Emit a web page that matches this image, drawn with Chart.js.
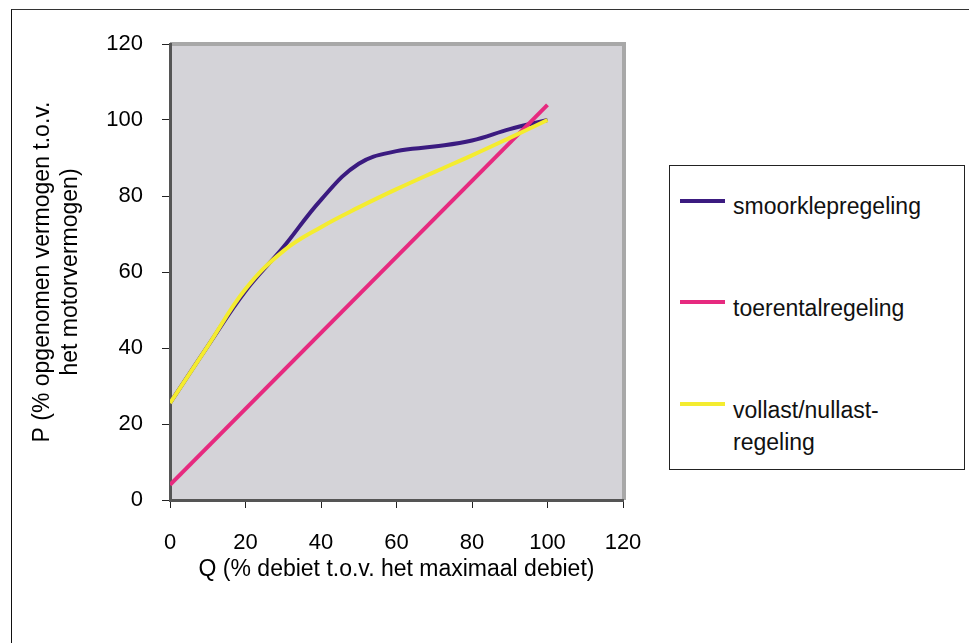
<!DOCTYPE html>
<html>
<head>
<meta charset="utf-8">
<script src="https://cdn.jsdelivr.net/npm/chart.js@4/dist/chart.umd.min.js"></script>
<style>
  html, body { margin: 0; padding: 0; background: #fff; width: 969px; height: 643px; overflow: hidden; }
  #frame { position: absolute; left: 11px; top: 9px; width: 1000px; height: 700px; border-left: 1px solid #111; border-top: 1px solid #333; }
  #wrap { position: absolute; left: 0; top: 0; width: 969px; height: 643px; }
  #legend { position: absolute; left: 669px; top: 165px; width: 294px; height: 303px; border: 1px solid #222; background: #fff;
            font-family: 'Liberation Sans', Arial, sans-serif; font-size: 23px; color: #111; }
  .item { position: absolute; left: 0; width: 100%; }
  .swatch { position: absolute; left: 10px; width: 45px; height: 4px; }
  .lbl { position: absolute; left: 63px; line-height: 32px; white-space: nowrap; }
</style>
</head>
<body>
<div id="frame"></div>
<div id="wrap"><canvas id="c" width="969" height="643"></canvas></div>
<div id="legend"></div>
<script>
// ---- data ----
const qValues = [0, 10, 20, 30, 40, 50, 60, 70, 80, 90, 100];
const smoorklep = [25.5, 40.5, 55, 66.5, 79, 88.5, 91.8, 93, 94.6, 97.6, 100];
const vollast = [25.5, 40.5, 55.5, 65.5, 71.8, 77, 81.8, 86.3, 90.7, 95.3, 100];
const toerentalQ = [0, 100];
const toerental = [4, 104];
const seriesLabels = ['smoorklepregeling', 'toerentalregeling', ['vollast/nullast-', 'regeling']];
const seriesColors = ['#3b1b80', '#e62a7f', '#f4ec2f'];
const xTitle = 'Q (% debiet t.o.v. het maximaal debiet)';
const yTitle = ['P (% opgenomen vermogen t.o.v.', 'het motorvermogen)'];

const pts = (xs, ys) => xs.map((x, i) => ({x: x, y: ys[i]}));
const FONT = "'Liberation Sans', Arial, sans-serif";

const plotBg = {
  id: 'plotBg',
  beforeDraw(chart) {
    const {ctx, chartArea: a} = chart;
    ctx.save();
    ctx.fillStyle = '#d4d3d8';
    ctx.fillRect(a.left, a.top, a.right - a.left, a.bottom - a.top);
    ctx.fillStyle = '#a8a8a8';
    ctx.fillRect(a.left, a.top - 2, a.right - a.left + 3, 4);
    ctx.fillRect(a.right - 1, a.top - 2, 4, a.bottom - a.top + 2);
    ctx.restore();
  }
};

new Chart(document.getElementById('c'), {
  type: 'line',
  data: {
    datasets: [
      { label: seriesLabels[0], data: pts(qValues, smoorklep), borderColor: seriesColors[0], borderWidth: 4, tension: 0.4, pointRadius: 0, order: 3 },
      { label: seriesLabels[1], data: pts(toerentalQ, toerental), borderColor: seriesColors[1], borderWidth: 4, tension: 0, pointRadius: 0, order: 2 },
      { label: seriesLabels[2], data: pts(qValues, vollast), borderColor: seriesColors[2], borderWidth: 4, tension: 0.4, pointRadius: 0, order: 1 }
    ]
  },
  options: {
    responsive: false,
    animation: false,
    layout: { padding: { left: 0, top: 44, right: 346, bottom: 43 } },
    plugins: { legend: { display: false }, tooltip: { enabled: false } },
    scales: {
      x: {
        type: 'linear', min: 0, max: 120,
        ticks: { stepSize: 20, color: '#000', padding: 22, font: { family: FONT, size: 22 } },
        grid: { display: true, drawOnChartArea: false, drawTicks: true, tickLength: 8, color: '#222', lineWidth: 1 },
        border: { display: true, color: '#555', width: 3 },
        title: { display: true, text: xTitle, color: '#000', font: { family: FONT, size: 23, lineHeight: 26/23 }, padding: { top: 0, bottom: 17 } },
        afterFit(scale) { scale.height = 100; }
      },
      y: {
        type: 'linear', min: 0, max: 120,
        ticks: { stepSize: 20, color: '#000', padding: 19, font: { family: FONT, size: 22 } },
        grid: { display: true, drawOnChartArea: false, drawTicks: true, tickLength: 8, color: '#222', lineWidth: 1 },
        border: { display: true, color: '#555', width: 3 },
        title: { display: true, text: yTitle, color: '#000', font: { family: FONT, size: 23, lineHeight: 28/23 }, padding: { top: 29, bottom: 0 } },
        afterFit(scale) { scale.width = 170; }
      }
    }
  },
  plugins: [plotBg]
});

// HTML legend built from the series labels
const legend = document.getElementById('legend');
const swatchTops = [35, 136, 238];
const textTops = [24, 126, 228];
seriesLabels.forEach((lab, i) => {
  const sw = document.createElement('div');
  sw.className = 'swatch';
  sw.style.top = swatchTops[i] - 2 + 'px';
  sw.style.background = seriesColors[i];
  legend.appendChild(sw);
  const t = document.createElement('div');
  t.className = 'lbl';
  t.style.top = textTops[i] + 'px';
  t.innerHTML = (Array.isArray(lab) ? lab : [lab]).join('<br>');
  legend.appendChild(t);
});
</script>
</body>
</html>
